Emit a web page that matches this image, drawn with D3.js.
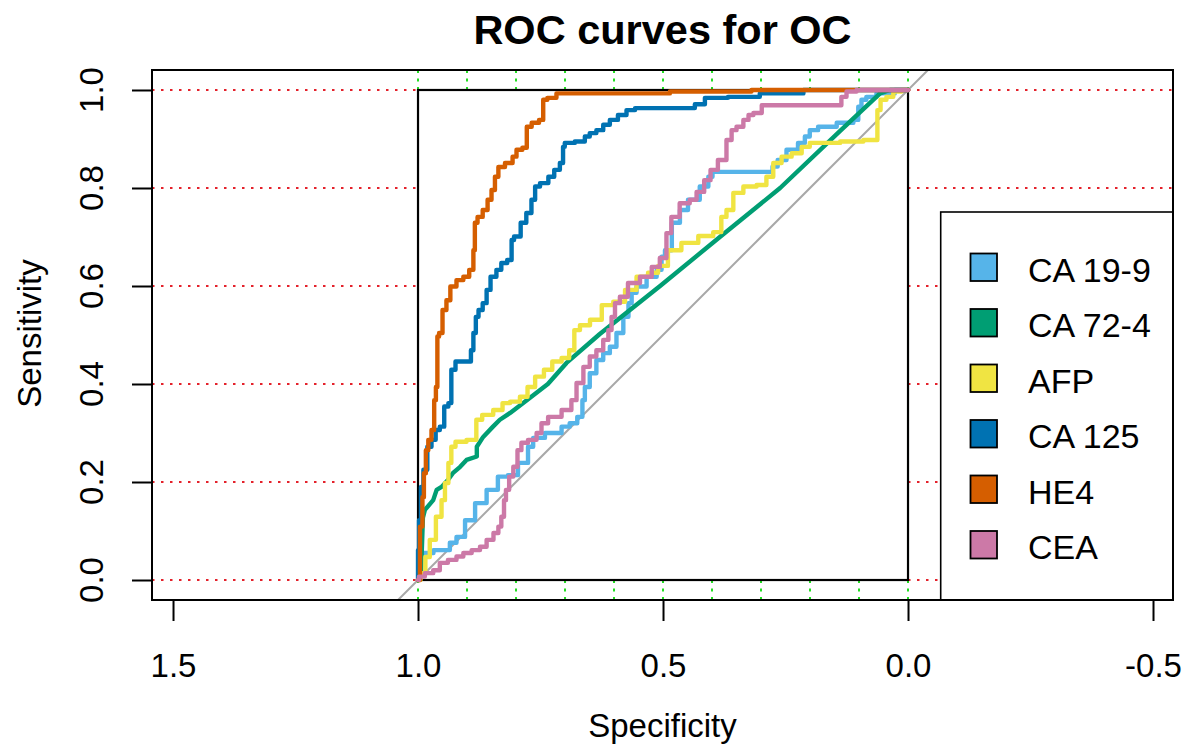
<!DOCTYPE html>
<html>
<head>
<meta charset="utf-8">
<script src="https://cdn.jsdelivr.net/npm/d3@7"></script>
<style>
  html, body { margin: 0; padding: 0; background: #ffffff; }
  svg { display: block; }
  text { font-family: "Liberation Sans", Arial, Helvetica, sans-serif; fill: #000; }
</style>
</head>
<body>
<svg id="chart" width="1190" height="748"></svg>
<script>
// ---------------- DATA ----------------
const chartTitle = "ROC curves for OC";
const xAxisTitle = "Specificity";
const yAxisTitle = "Sensitivity";

const xTickValues = [1.5, 1.0, 0.5, 0.0, -0.5];
const xTickLabels = ["1.5", "1.0", "0.5", "0.0", "-0.5"];
const yTickValues = [0.0, 0.2, 0.4, 0.6, 0.8, 1.0];
const yTickLabels = ["0.0", "0.2", "0.4", "0.6", "0.8", "1.0"];
const specGridValues = [0, 0.1, 0.2, 0.3, 0.4, 0.5, 0.6, 0.7, 0.8, 0.9, 1.0];
const sensGridValues = [0, 0.2, 0.4, 0.6, 0.8, 1.0];

const seriesNames = ["CA 19-9", "CA 72-4", "AFP", "CA 125", "HE4", "CEA"];
const seriesColors = ["#56B4E9", "#009E73", "#F0E442", "#0072B2", "#D55E00", "#CC79A7"];
const seriesStepped = [true, false, true, true, true, true];

const ca199Spec = [1, 0.996, 0.941, 0.929, 0.914, 0.894, 0.873, 0.847, 0.827, 0.806, 0.786, 0.765, 0.765, 0.717, 0.697, 0.684, 0.666, 0.663, 0.656, 0.643, 0.629, 0.615, 0.602, 0.588, 0.574, 0.567, 0.561, 0.547, 0.520, 0.506, 0.500, 0.492, 0.472, 0.459, 0.439, 0.411, 0.404, 0.394, 0.282, 0.271, 0.261, 0.235, 0.214, 0.207, 0.194, 0.173, 0.118, 0.105, 0.098, 0.092, 0.078, 0.051, 0.003, 0];
const ca199Sens = [0, 0.055, 0.061, 0.076, 0.088, 0.122, 0.157, 0.184, 0.211, 0.214, 0.239, 0.272, 0.290, 0.300, 0.313, 0.320, 0.333, 0.367, 0.394, 0.422, 0.449, 0.463, 0.476, 0.504, 0.537, 0.565, 0.586, 0.599, 0.619, 0.633, 0.660, 0.673, 0.729, 0.755, 0.776, 0.803, 0.823, 0.833, 0.833, 0.844, 0.857, 0.878, 0.892, 0.905, 0.918, 0.925, 0.933, 0.939, 0.966, 0.980, 0.986, 0.993, 1, 1];

const ca724Spec = [1, 0.994, 0.990, 0.986, 0.969, 0.962, 0.952, 0.939, 0.929, 0.914, 0.901, 0.880, 0.880, 0.867, 0.847, 0.833, 0.812, 0.778, 0.735, 0.697, 0.629, 0.506, 0.384, 0.261, 0.139, 0.057, 0.037, 0];
const ca724Sens = [0, 0.010, 0.127, 0.143, 0.163, 0.184, 0.190, 0.204, 0.218, 0.231, 0.245, 0.252, 0.272, 0.292, 0.313, 0.327, 0.341, 0.367, 0.400, 0.443, 0.502, 0.600, 0.700, 0.800, 0.916, 0.993, 1, 1];

const afpSpec = [1, 0.990, 0.980, 0.972, 0.955, 0.949, 0.941, 0.935, 0.929, 0.918, 0.884, 0.878, 0.860, 0.833, 0.822, 0.802, 0.782, 0.771, 0.751, 0.735, 0.717, 0.697, 0.686, 0.676, 0.663, 0.635, 0.615, 0.588, 0.567, 0.541, 0.520, 0.500, 0.480, 0.445, 0.411, 0.384, 0.378, 0.363, 0.350, 0.322, 0.296, 0.282, 0.268, 0.248, 0.227, 0.207, 0.194, 0.159, 0.118, 0.064, 0.061, 0.051, 0.037, 0.023, 0.003, 0];
const afpSens = [0, 0.014, 0.047, 0.082, 0.129, 0.163, 0.198, 0.239, 0.272, 0.282, 0.286, 0.327, 0.337, 0.347, 0.361, 0.364, 0.374, 0.394, 0.415, 0.429, 0.446, 0.453, 0.469, 0.510, 0.520, 0.531, 0.561, 0.568, 0.592, 0.619, 0.627, 0.641, 0.673, 0.688, 0.702, 0.710, 0.741, 0.755, 0.790, 0.803, 0.806, 0.823, 0.851, 0.864, 0.871, 0.884, 0.892, 0.892, 0.895, 0.898, 0.959, 0.980, 0.986, 0.997, 1, 1];

const ca125Spec = [1, 1, 0.996, 0.992, 0.986, 0.976, 0.969, 0.959, 0.952, 0.941, 0.935, 0.929, 0.918, 0.894, 0.890, 0.884, 0.880, 0.873, 0.863, 0.857, 0.847, 0.833, 0.827, 0.809, 0.809, 0.799, 0.782, 0.776, 0.761, 0.761, 0.741, 0.727, 0.717, 0.704, 0.704, 0.697, 0.663, 0.656, 0.643, 0.629, 0.615, 0.602, 0.582, 0.567, 0.547, 0.439, 0.431, 0.398, 0.337, 0.268, 0.159, 0];
const ca125Sens = [0, 0.061, 0.122, 0.190, 0.225, 0.272, 0.286, 0.306, 0.313, 0.354, 0.361, 0.429, 0.446, 0.446, 0.469, 0.504, 0.537, 0.551, 0.565, 0.592, 0.619, 0.633, 0.647, 0.653, 0.694, 0.701, 0.729, 0.749, 0.776, 0.803, 0.810, 0.823, 0.837, 0.851, 0.884, 0.892, 0.895, 0.905, 0.912, 0.918, 0.929, 0.939, 0.949, 0.959, 0.963, 0.963, 0.971, 0.984, 0.986, 0.993, 1, 1];

const he4Spec = [1, 0.992, 0.990, 0.986, 0.982, 0.976, 0.969, 0.965, 0.962, 0.959, 0.955, 0.945, 0.939, 0.929, 0.914, 0.901, 0.890, 0.884, 0.884, 0.873, 0.863, 0.853, 0.847, 0.839, 0.833, 0.812, 0.802, 0.796, 0.778, 0.778, 0.758, 0.748, 0.741, 0.731, 0.704, 0.492, 0.480, 0.159, 0];
const he4Sens = [0, 0.109, 0.169, 0.218, 0.265, 0.286, 0.306, 0.367, 0.394, 0.497, 0.504, 0.551, 0.571, 0.599, 0.612, 0.619, 0.633, 0.673, 0.729, 0.741, 0.755, 0.776, 0.796, 0.823, 0.843, 0.851, 0.864, 0.878, 0.882, 0.925, 0.933, 0.939, 0.980, 0.984, 0.993, 0.993, 0.997, 1, 1];

const ceaSpec = [1, 0.996, 0.976, 0.962, 0.949, 0.929, 0.914, 0.901, 0.880, 0.867, 0.853, 0.839, 0.833, 0.827, 0.822, 0.819, 0.809, 0.802, 0.792, 0.786, 0.765, 0.751, 0.745, 0.724, 0.690, 0.684, 0.669, 0.656, 0.643, 0.629, 0.615, 0.608, 0.602, 0.594, 0.582, 0.561, 0.533, 0.513, 0.500, 0.486, 0.480, 0.452, 0.439, 0.424, 0.408, 0.398, 0.378, 0.363, 0.357, 0.343, 0.329, 0.322, 0.309, 0.288, 0.139, 0.133, 0.118, 0.092, 0];
const ceaSens = [0, 0.007, 0.014, 0.020, 0.035, 0.041, 0.048, 0.055, 0.061, 0.068, 0.082, 0.096, 0.109, 0.129, 0.163, 0.184, 0.211, 0.231, 0.265, 0.280, 0.286, 0.300, 0.320, 0.333, 0.347, 0.367, 0.402, 0.435, 0.456, 0.469, 0.490, 0.510, 0.537, 0.565, 0.578, 0.606, 0.619, 0.639, 0.657, 0.708, 0.741, 0.769, 0.776, 0.792, 0.816, 0.837, 0.857, 0.898, 0.918, 0.925, 0.939, 0.949, 0.953, 0.969, 0.969, 0.986, 0.997, 1, 1];

const seriesSpec = [ca199Spec, ca724Spec, afpSpec, ca125Spec, he4Spec, ceaSpec];
const seriesSens = [ca199Sens, ca724Sens, afpSens, ca125Sens, he4Sens, ceaSens];

// ---------------- LAYOUT ----------------
const svg = d3.select("#chart");
const box = { left: 152, right: 1173, top: 70, bottom: 600 };
const font = '"Liberation Sans", Arial, Helvetica, sans-serif';

// asp = 1: both axes share 490 px per unit; 4% padding around the [0,1] range
const x = d3.scaleLinear().domain([1.5429, -0.5408]).range([box.left, box.right]);
const y = d3.scaleLinear().domain([-0.0408, 1.0408]).range([box.bottom, box.top]);

svg.append("defs").append("clipPath").attr("id", "plotclip")
  .append("rect")
  .attr("x", box.left).attr("y", box.top)
  .attr("width", box.right - box.left).attr("height", box.bottom - box.top);

const gPlot = svg.append("g").attr("clip-path", "url(#plotclip)");

// green dotted vertical grid (specificity)
gPlot.selectAll("line.vgrid").data(specGridValues).join("line")
  .attr("class", "vgrid")
  .attr("x1", d => x(d)).attr("x2", d => x(d))
  .attr("y1", box.bottom).attr("y2", box.top)
  .attr("stroke", "#22dd22").attr("stroke-width", 2)
  .attr("stroke-dasharray", "3,5.5");

// red dotted horizontal grid (sensitivity)
gPlot.selectAll("line.hgrid").data(sensGridValues).join("line")
  .attr("class", "hgrid")
  .attr("x1", box.left).attr("x2", box.right)
  .attr("y1", d => y(d)).attr("y2", d => y(d))
  .attr("stroke", "#e4212b").attr("stroke-width", 2)
  .attr("stroke-dasharray", "2.5,6.5");

// inner white frame of the ROC space
gPlot.append("rect")
  .attr("x", x(1)).attr("y", y(1))
  .attr("width", x(0) - x(1)).attr("height", y(0) - y(1))
  .attr("fill", "#ffffff").attr("stroke", "#000").attr("stroke-width", 2.2);

// identity diagonal across the whole plot region
const yd = y.domain();
gPlot.append("line")
  .attr("x1", x(1 - yd[0])).attr("y1", y(yd[0]))
  .attr("x2", x(1 - yd[1])).attr("y2", y(yd[1]))
  .attr("stroke", "#a8a8a8").attr("stroke-width", 2);

// ROC curves
const stepLine = d3.line().curve(d3.curveStep).x(d => x(d[0])).y(d => y(d[1]));
const straightLine = d3.line().x(d => x(d[0])).y(d => y(d[1]));
seriesNames.forEach((name, i) => {
  const pts = seriesSpec[i].map((s, k) => [s, seriesSens[i][k]]);
  gPlot.append("path")
    .datum(pts)
    .attr("d", seriesStepped[i] ? stepLine : straightLine)
    .attr("fill", "none")
    .attr("stroke", seriesColors[i])
    .attr("stroke-width", 4.4)
    .attr("stroke-linejoin", "round")
    .attr("stroke-linecap", "round");
});

// legend (bottom-right, clipped by plot region)
const leg = { left: 940.7, top: 212, itemTop: 253.5, step: 55.5, sq: 27.5, sqX: 970.5, textX: 1028 };
svg.append("rect")
  .attr("x", leg.left).attr("y", leg.top)
  .attr("width", box.right - leg.left).attr("height", box.bottom - leg.top)
  .attr("fill", "#fff").attr("stroke", "#000").attr("stroke-width", 1.6);
const items = svg.selectAll("g.leg").data(seriesNames).join("g").attr("class", "leg");
items.append("rect")
  .attr("x", leg.sqX).attr("y", (d, i) => leg.itemTop + i * leg.step)
  .attr("width", leg.sq - 1).attr("height", leg.sq)
  .attr("fill", (d, i) => seriesColors[i]).attr("stroke", "#000").attr("stroke-width", 1.8);
items.append("text")
  .attr("x", leg.textX).attr("y", (d, i) => leg.itemTop + i * leg.step + leg.sq + 0.5)
  .attr("font-size", 34).text(d => d);

// outer plot frame
svg.append("rect")
  .attr("x", box.left).attr("y", box.top)
  .attr("width", box.right - box.left).attr("height", box.bottom - box.top)
  .attr("fill", "none").attr("stroke", "#000").attr("stroke-width", 2);

// x axis
const xAxis = d3.axisBottom(x).tickValues(xTickValues)
  .tickFormat((d, i) => xTickLabels[i]).tickSize(21).tickPadding(32.5);
const gx = svg.append("g").attr("transform", `translate(0,${box.bottom})`).call(xAxis);
gx.select(".domain").remove();
gx.selectAll(".tick line").attr("stroke", "#000").attr("stroke-width", 2);
gx.selectAll(".tick text").attr("font-size", 33).attr("font-family", font).attr("fill", "#000");

// y axis
const yAxis = d3.axisLeft(y).tickValues(yTickValues).tickFormat("").tickSize(20);
const gy = svg.append("g").attr("transform", `translate(${box.left},0)`).call(yAxis);
gy.select(".domain").remove();
gy.selectAll(".tick line").attr("stroke", "#000").attr("stroke-width", 2);
svg.selectAll("text.ylab").data(yTickValues).join("text")
  .attr("class", "ylab")
  .attr("transform", d => `translate(103,${y(d)}) rotate(-90)`)
  .attr("text-anchor", "middle").attr("font-size", 33)
  .text((d, i) => yTickLabels[i]);

// titles
svg.append("text")
  .attr("x", (box.left + box.right) / 2).attr("y", 43.5)
  .attr("text-anchor", "middle").attr("font-size", 41.5).attr("font-weight", "bold")
  .text(chartTitle);
svg.append("text")
  .attr("x", (box.left + box.right) / 2).attr("y", 737)
  .attr("text-anchor", "middle").attr("font-size", 33)
  .text(xAxisTitle);
svg.append("text")
  .attr("transform", `translate(41,333.5) rotate(-90)`)
  .attr("text-anchor", "middle").attr("font-size", 33)
  .text(yAxisTitle);
</script>
</body>
</html>
